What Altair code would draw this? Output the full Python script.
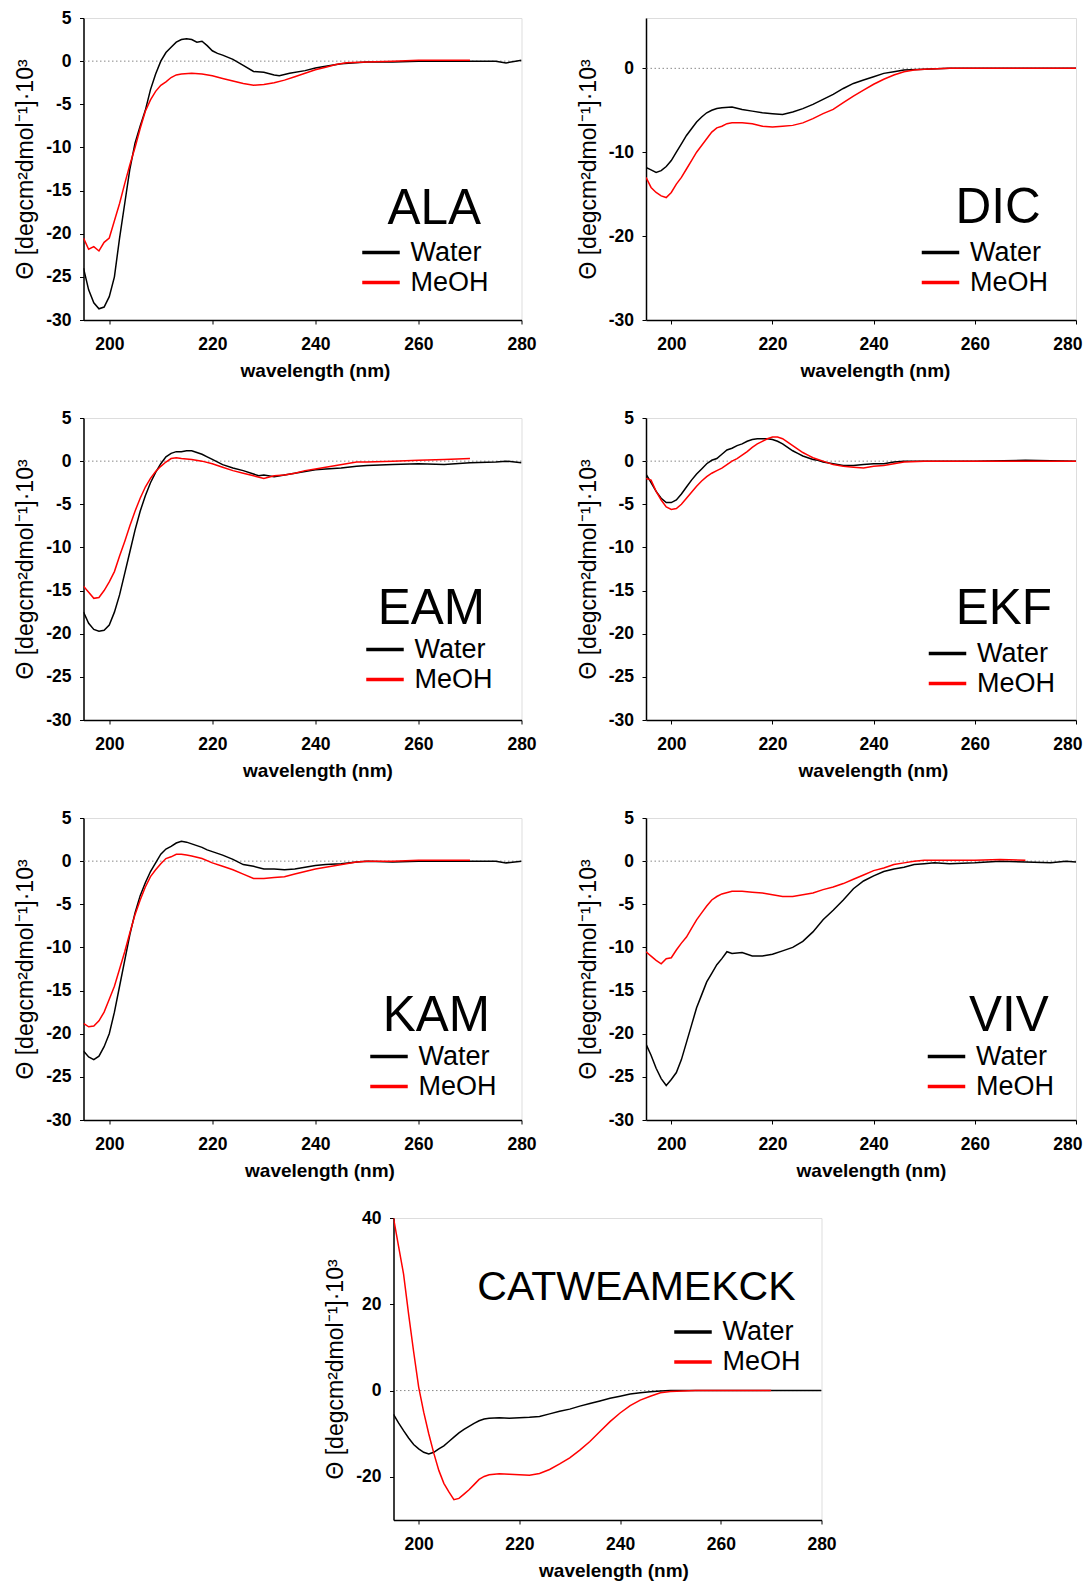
import altair as alt
import pandas as pd

FONT = "Liberation Sans"
YTITLE = "Θ [degcm²dmol⁻¹]·10³"
XTITLE = "wavelength (nm)"
X_TICKS = [200, 220, 240, 260, 280]
SOLVENTS = ["Water", "MeOH"]
COLORS = ["#000000", "#ff0000"]

# ---- data (wavelength nm, ellipticity x10^3) ----
ALA_WATER = [(195,-24),(196,-26.5),(197,-28),(198,-28.7),(199,-28.5),(200,-27.3),(201,-25),(202,-20.5),
             (203,-16.5),(204,-12.5),(205,-9.5),(206,-7.5),(207,-5.7),(208,-3.3),(209,-1.5),(210,0),
             (211,1.0),(212,1.6),(213,2.2),(214,2.5),(215,2.6),(216,2.5),(217,2.2),(218,2.3),(219,1.8),
             (220,1.2),(221,0.9),(222,0.7),(224,0.2),(226,-0.5),(228,-1.2),(230,-1.3),(232,-1.6),(233,-1.7),
             (235,-1.4),(238,-1.1),(240,-0.8),(242,-0.6),(245,-0.3),(250,-0.1),(255,-0.1),(260,0),(265,0),
             (270,0),(275,0),(277,-0.2),(280,0.1)]
ALA_MEOH = [(195,-20.5),(196,-21.8),(197,-21.5),(198,-22),(199,-21),(200,-20.5),(201,-18.5),(202,-16.5),
            (203,-14.2),(204,-12),(205,-10),(206,-7.8),(207,-5.8),(208,-4.5),(209,-3.5),(210,-2.8),
            (211,-2.4),(212,-1.9),(213,-1.6),(214,-1.5),(216,-1.4),(218,-1.5),(220,-1.7),(222,-2.0),
            (224,-2.3),(226,-2.6),(228,-2.8),(230,-2.7),(232,-2.5),(234,-2.2),(236,-1.8),(238,-1.4),
            (240,-1.0),(242,-0.7),(244,-0.4),(246,-0.2),(250,-0.1),(255,0),(260,0.1),(265,0.1),(270,0.1)]

DIC_WATER = [(195,-11.8),(196,-12.1),(197,-12.4),(198,-12.2),(199,-11.7),(200,-11),(201,-10),(202,-9),
             (203,-8),(204,-7.2),(205,-6.4),(206,-5.8),(207,-5.3),(208,-5.0),(209,-4.8),(210,-4.7),
             (212,-4.6),(214,-4.9),(216,-5.1),(218,-5.3),(220,-5.4),(222,-5.5),(224,-5.2),(226,-4.8),
             (228,-4.3),(230,-3.7),(232,-3.1),(234,-2.4),(236,-1.8),(238,-1.4),(240,-1.0),(242,-0.6),
             (244,-0.4),(246,-0.2),(250,-0.1),(255,0),(260,0),(270,0),(280,0)]
DIC_MEOH = [(195,-13),(196,-14.2),(197,-14.8),(198,-15.2),(199,-15.4),(200,-14.8),(201,-13.8),(202,-13),
            (203,-12),(204,-11),(205,-10),(206,-9.2),(207,-8.4),(208,-7.6),(209,-7.1),(210,-6.9),
            (211,-6.6),(212,-6.5),(214,-6.5),(216,-6.6),(218,-6.9),(220,-7.0),(222,-6.9),(224,-6.8),
            (226,-6.5),(228,-6.0),(230,-5.4),(232,-4.9),(234,-4.1),(236,-3.3),(238,-2.6),(240,-1.9),
            (242,-1.3),(244,-0.8),(246,-0.4),(248,-0.2),(250,-0.1),(255,0),(260,0),(270,0),(280,0)]

EAM_WATER = [(195,-17.5),(196,-18.8),(197,-19.5),(198,-19.7),(199,-19.6),(200,-19),(201,-17.5),(202,-15.5),
             (203,-13),(204,-10.5),(205,-8),(206,-5.8),(207,-4),(208,-2.5),(209,-1.3),(210,-0.3),
             (211,0.5),(212,0.9),(213,1.1),(214,1.1),(215,1.2),(216,1.2),(217,1.0),(218,0.8),(219,0.5),
             (220,0.2),(222,-0.4),(224,-0.8),(226,-1.1),(228,-1.5),(229,-1.7),(230,-1.6),(232,-1.8),
             (234,-1.6),(236,-1.4),(238,-1.2),(240,-1.0),(242,-0.9),(245,-0.8),(248,-0.6),(250,-0.5),
             (255,-0.4),(260,-0.3),(265,-0.4),(270,-0.2),(275,-0.1),(277,0),(280,-0.2)]
EAM_MEOH = [(195,-14.5),(196,-15.2),(197,-15.9),(198,-15.8),(199,-15),(200,-14),(201,-12.8),(202,-11),
            (203,-9.3),(204,-7.5),(205,-5.8),(206,-4.3),(207,-3),(208,-2),(209,-1.2),(210,-0.6),
            (211,-0.1),(212,0.3),(213,0.4),(214,0.3),(216,0.2),(218,0),(220,-0.3),(222,-0.7),(224,-1.1),
            (226,-1.4),(228,-1.7),(230,-2.0),(232,-1.7),(234,-1.6),(236,-1.4),(238,-1.1),(240,-0.9),
            (242,-0.7),(244,-0.5),(246,-0.3),(248,-0.1),(250,-0.1),(255,0),(260,0.1),(265,0.2),(270,0.3)]

EKF_WATER = [(195,-1.5),(196,-2.5),(197,-3.5),(198,-4.3),(199,-4.8),(200,-4.8),(201,-4.5),(202,-3.8),
             (203,-3.0),(204,-2.2),(205,-1.5),(206,-0.9),(207,-0.3),(208,0.1),(209,0.3),(210,0.8),
             (211,1.3),(212,1.5),(213,1.8),(214,2.0),(215,2.3),(216,2.5),(217,2.6),(218,2.6),(219,2.6),
             (220,2.5),(221,2.3),(222,2.0),(223,1.6),(224,1.2),(225,0.9),(226,0.6),(227,0.4),(228,0.2),
             (229,0.1),(230,-0.1),(232,-0.3),(234,-0.5),(236,-0.5),(238,-0.4),(240,-0.3),(242,-0.3),
             (244,-0.1),(246,0),(250,0),(260,0),(270,0.1),(280,0)]
EKF_MEOH = [(195,-2),(196,-2.2),(197,-3.5),(198,-4.5),(199,-5.3),(200,-5.6),(201,-5.5),(202,-5.0),
            (203,-4.3),(204,-3.6),(205,-2.9),(206,-2.3),(207,-1.8),(208,-1.4),(209,-1.1),(210,-0.8),
            (211,-0.4),(212,0),(213,0.3),(214,0.7),(215,1.1),(216,1.6),(217,2.0),(218,2.3),(219,2.6),
            (220,2.8),(221,2.8),(222,2.6),(223,2.2),(224,1.8),(225,1.4),(226,1.0),(227,0.7),(228,0.4),
            (229,0.2),(230,0),(232,-0.4),(234,-0.6),(236,-0.7),(238,-0.8),(240,-0.6),(242,-0.5),
            (244,-0.3),(246,-0.1),(250,0),(260,0),(270,0),(280,0)]

KAM_WATER = [(195,-22),(196,-22.7),(197,-23),(198,-22.6),(199,-21.5),(200,-20),(201,-17.5),(202,-14.5),
             (203,-11.5),(204,-8.5),(205,-6),(206,-4),(207,-2.5),(208,-1.2),(209,-0.2),(210,0.8),
             (211,1.4),(212,1.7),(213,2.1),(214,2.3),(215,2.2),(216,2.0),(217,1.8),(218,1.6),(219,1.3),
             (220,1.1),(222,0.7),(224,0.2),(226,-0.4),(228,-0.6),(230,-0.9),(232,-0.9),(234,-1.0),
             (236,-0.9),(238,-0.7),(240,-0.5),(242,-0.4),(245,-0.3),(248,-0.1),(250,0),(255,-0.1),
             (260,0),(265,0),(270,0),(275,0),(277,-0.2),(280,0)]
KAM_MEOH = [(195,-18.8),(196,-19.2),(197,-19.1),(198,-18.5),(199,-17.5),(200,-16),(201,-14.5),(202,-12.5),
            (203,-10.5),(204,-8.3),(205,-6.2),(206,-4.5),(207,-3.0),(208,-1.8),(209,-1.0),(210,-0.3),
            (211,0.3),(212,0.5),(213,0.8),(214,0.8),(215,0.7),(216,0.6),(218,0.3),(220,-0.2),(222,-0.6),
            (224,-1.0),(226,-1.5),(228,-2.0),(230,-2.0),(232,-1.9),(234,-1.8),(236,-1.5),(238,-1.2),
            (240,-0.9),(242,-0.7),(244,-0.5),(246,-0.3),(248,-0.1),(250,0),(255,0),(260,0.1),(265,0.1),(270,0.1)]

VIV_WATER = [(195,-21.2),(196,-22.5),(197,-24),(198,-25.2),(199,-26),(200,-25.3),(201,-24.5),(202,-23),
             (203,-21),(204,-19),(205,-17),(206,-15.5),(207,-14),(208,-13),(209,-12),(210,-11.3),
             (211,-10.5),(212,-10.7),(214,-10.6),(216,-11.0),(218,-11.0),(220,-10.8),(222,-10.4),
             (224,-10),(226,-9.3),(228,-8.2),(230,-6.8),(232,-5.7),(234,-4.5),(236,-3.2),(238,-2.3),
             (240,-1.7),(242,-1.2),(244,-0.9),(246,-0.7),(248,-0.4),(250,-0.3),(252,-0.2),(255,-0.3),
             (260,-0.2),(265,0),(270,-0.1),(275,-0.2),(278,0),(280,-0.1)]
VIV_MEOH = [(195,-10.5),(196,-11),(197,-11.5),(198,-11.9),(199,-11.3),(200,-11.2),(201,-10.3),(202,-9.5),
            (203,-8.8),(204,-7.8),(205,-6.8),(206,-6.0),(207,-5.2),(208,-4.5),(209,-4.1),(210,-3.8),
            (212,-3.5),(214,-3.5),(216,-3.6),(218,-3.7),(220,-3.9),(222,-4.1),(224,-4.1),(226,-3.9),
            (228,-3.7),(230,-3.3),(232,-3.0),(234,-2.6),(236,-2.1),(238,-1.6),(240,-1.1),(242,-0.8),
            (244,-0.4),(246,-0.2),(248,0),(250,0.1),(255,0.1),(260,0.1),(265,0.2),(270,0.1)]

CAT_WATER = [(195,-5.5),(196,-7.5),(197,-9.3),(198,-11),(199,-12.5),(200,-13.5),(201,-14.3),(202,-14.7),
             (203,-14.3),(204,-13.5),(205,-12.8),(206,-11.8),(207,-10.8),(208,-9.8),(209,-9),(210,-8.3),
             (211,-7.6),(212,-7),(213,-6.6),(214,-6.4),(216,-6.3),(218,-6.4),(220,-6.3),(222,-6.2),
             (224,-6),(226,-5.4),(228,-4.8),(230,-4.3),(232,-3.6),(234,-3.0),(236,-2.4),(238,-1.8),
             (240,-1.3),(242,-0.8),(244,-0.5),(246,-0.3),(248,-0.1),(250,0),(260,0),(270,0),(280,0)]
CAT_MEOH = [(195,40),(196,33.5),(197,27),(198,17.7),(199,9),(200,0.8),(201,-5),(202,-10),(203,-14.5),
            (204,-18.5),(205,-21.5),(206,-23.5),(207,-25.3),(208,-25),(209,-24),(210,-23),(211,-21.8),
            (212,-20.6),(213,-19.9),(214,-19.5),(216,-19.3),(218,-19.4),(220,-19.5),(222,-19.6),
            (224,-19.2),(226,-18.3),(228,-17),(230,-15.6),(232,-13.8),(234,-11.8),(236,-9.5),(238,-7.2),
            (240,-5.2),(242,-3.5),(244,-2.2),(246,-1.3),(248,-0.5),(250,-0.2),(255,0),(260,0),(270,0)]

Y_TICKS_5 = [5, 0, -5, -10, -15, -20, -25, -30]
Y_TICKS_DIC = [0, -10, -20, -30]
Y_TICKS_CAT = [40, 20, 0, -20]

SWATCH = "M-1.28,0L1.28,0"


def make_df(water, meoh):
    rows = [{"wl": x, "theta": y, "solvent": "Water"} for x, y in water]
    rows += [{"wl": x, "theta": y, "solvent": "MeOH"} for x, y in meoh]
    return pd.DataFrame(rows)


def panel(name, water, meoh, ydom, yticks, width, tx, ty, lx, ly, xtx, tsize=49.5, flush=False):
    df = make_df(water, meoh)
    xaxis_kw = dict(values=X_TICKS, title=XTITLE, grid=False, labelFont=FONT,
                    labelFontSize=17.5, labelFontWeight="bold", labelColor="black",
                    titleFont=FONT, titleFontSize=19, titleFontWeight="bold",
                    titleColor="black", tickSize=4, tickColor="black",
                    domainColor="black", domainWidth=1.5, labelPadding=11,
                    titlePadding=9, titleX=xtx)
    if flush:
        xaxis_kw.update(labelFlush=True, labelFlushOffset=6)
    else:
        xaxis_kw.update(labelFlush=False)
    xenc = alt.X("wl:Q", scale=alt.Scale(domain=[195, 280], nice=False, zero=False),
                 axis=alt.Axis(**xaxis_kw))
    yenc = alt.Y("theta:Q", scale=alt.Scale(domain=ydom, nice=False, zero=False),
                 axis=alt.Axis(values=yticks, title=YTITLE, grid=False, labelFont=FONT,
                               labelFontSize=17.5, labelFontWeight="bold", labelColor="black",
                               labelExpr="'' + datum.value",
                               titleFont=FONT, titleFontSize=23, titleFontWeight="normal",
                               titleColor="black", tickSize=4, tickColor="black",
                               domainColor="black", domainWidth=1.5, labelPadding=8.5,
                               titlePadding=8, labelFlush=False))
    zero = alt.Chart(pd.DataFrame({"z": [0]})).mark_rule(
        color="#888888", strokeDash=[1.5, 2.5], strokeWidth=1).encode(y=alt.Y("z:Q"))
    lines = alt.Chart(df).mark_line(strokeWidth=1.5, clip=True).encode(
        x=xenc, y=yenc,
        color=alt.Color("solvent:N", sort=SOLVENTS,
                        scale=alt.Scale(domain=SOLVENTS, range=COLORS),
                        legend=alt.Legend(orient="none", legendX=lx, legendY=ly, title=None,
                                          symbolType=SWATCH, symbolSize=858,
                                          symbolStrokeWidth=3.5, labelFont=FONT,
                                          labelFontSize=27, labelColor="black",
                                          rowPadding=0, labelOffset=13, padding=0)),
        order=alt.Order("wl:Q"))
    label = alt.Chart(pd.DataFrame({"t": [name]})).mark_text(
        align="right", baseline="alphabetic", font=FONT, fontSize=tsize, color="black").encode(
        text="t:N", x=alt.value(tx), y=alt.value(ty))
    return alt.layer(zero, lines, label).properties(width=width, height=302)


def spacer(w):
    return alt.Chart(pd.DataFrame({"a": [0]})).mark_point(opacity=0).encode(
        x=alt.X("a:Q", axis=None), y=alt.Y("a:Q", axis=None)
    ).properties(width=w, height=10, view=alt.ViewBackground(stroke="transparent"))


ala = panel("ALA", ALA_WATER, ALA_MEOH, [-30, 5], Y_TICKS_5, 438, 397.5, 205.5, 281, 218, 231.5)
dic = panel("DIC", DIC_WATER, DIC_MEOH, [-30, 6], Y_TICKS_DIC, 430, 394.8, 205, 278, 218, 229, flush=True)
eam = panel("EAM", EAM_WATER, EAM_MEOH, [-30, 5], Y_TICKS_5, 438, 401.5, 206, 285, 215, 234)
ekf = panel("EKF", EKF_WATER, EKF_MEOH, [-30, 5], Y_TICKS_5, 430, 406, 206, 285, 219, 227, flush=True)
kam = panel("KAM", KAM_WATER, KAM_MEOH, [-30, 5], Y_TICKS_5, 438, 406.5, 212.5, 289, 222, 236)
viv = panel("VIV", VIV_WATER, VIV_MEOH, [-30, 5], Y_TICKS_5, 430, 402.9, 212.5, 284, 222, 225, flush=True)
cat = panel("CATWEAMEKCK", CAT_WATER, CAT_MEOH, [-30, 40], Y_TICKS_CAT, 428, 402, 82, 283, 97.5, 220,
            tsize=41)


def row(*charts, spacing=38.5):
    return alt.hconcat(*charts, spacing=spacing).resolve_scale(color="independent").resolve_legend(color="independent")


row1 = row(ala, dic)
row2 = row(eam, ekf)
row3 = row(kam, viv)
row4 = row(spacer(239), cat, spacing=0)

chart = alt.vconcat(row1, row2, row3, row4, spacing=27,
                    padding={"left": 5.5, "top": 0, "right": 0, "bottom": 0}
                    ).resolve_scale(color="independent").resolve_legend(color="independent"
                    ).configure_view(stroke="black", strokeWidth=1.5
                    ).configure(background="white")

chart.save("out.html", embed_options={"renderer": "svg", "actions": False})
